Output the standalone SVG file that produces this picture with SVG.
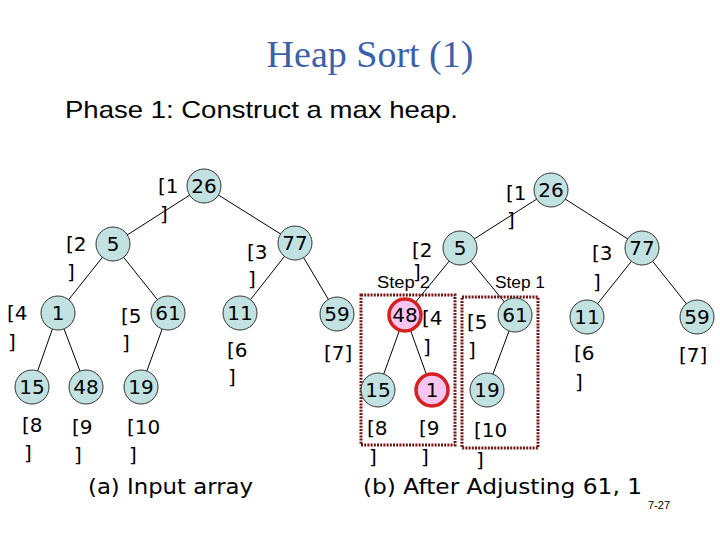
<svg xmlns="http://www.w3.org/2000/svg" width="720" height="540" viewBox="0 0 720 540">
<style>
.n circle{fill:#c2e2e2;stroke:#333;stroke-width:1}
.n.hl circle{fill:#f6c6f0;stroke:#d42020;stroke-width:3.5}
.n text{font-family:"DejaVu Sans",sans-serif;font-size:20px;text-anchor:middle;fill:#000}
.lb{font-family:"DejaVu Sans",sans-serif;font-size:20px;fill:#000}
.e line{stroke:#000;stroke-width:1}
.step{font-family:"Liberation Sans",Arial,sans-serif;font-size:16px;fill:#000}
.box{fill:none;stroke:#6e1414;stroke-width:3;stroke-dasharray:2 1.2}
</style>
<rect width="720" height="540" fill="#fff"/>
<text x="370" y="67" font-family="Liberation Serif,serif" font-size="38" fill="#3d5fa8" text-anchor="middle">Heap Sort (1)</text>
<text x="65" y="118" font-family="Liberation Sans,sans-serif" font-size="24" fill="#000" textLength="393" lengthAdjust="spacingAndGlyphs">Phase 1: Construct a max heap.</text>

<g id="connectors" class="e">
<line x1="204" y1="186" x2="113" y2="244"/>
<line x1="204" y1="186" x2="295" y2="243"/>
<line x1="113" y1="244" x2="58" y2="313"/>
<line x1="113" y1="244" x2="168" y2="313"/>
<line x1="295" y1="243" x2="240" y2="313"/>
<line x1="295" y1="243" x2="337" y2="314"/>
<line x1="58" y1="313" x2="32" y2="387"/>
<line x1="58" y1="313" x2="86" y2="387"/>
<line x1="168" y1="313" x2="141" y2="387"/>
<line x1="551" y1="190" x2="460" y2="248"/>
<line x1="551" y1="190" x2="642" y2="248"/>
<line x1="460" y1="248" x2="405" y2="315"/>
<line x1="460" y1="248" x2="515" y2="315"/>
<line x1="642" y1="248" x2="587" y2="317"/>
<line x1="642" y1="248" x2="697" y2="317"/>
<line x1="405" y1="315" x2="378" y2="390"/>
<line x1="405" y1="315" x2="432" y2="390"/>
<line x1="515" y1="315" x2="487" y2="390"/>
</g>

<rect class="box" x="361" y="295" width="94" height="150"/>
<rect class="box" x="462" y="297" width="76" height="151"/>

<g id="a26" class="n"><circle cx="204" cy="186" r="17"/><text x="204" y="193">26</text></g>
<g id="a5" class="n"><circle cx="113" cy="244" r="17"/><text x="113" y="251">5</text></g>
<g id="a77" class="n"><circle cx="295" cy="243" r="17"/><text x="295" y="250">77</text></g>
<g id="a1" class="n"><circle cx="58" cy="313" r="17"/><text x="58" y="320">1</text></g>
<g id="a61" class="n"><circle cx="168" cy="313" r="17"/><text x="168" y="320">61</text></g>
<g id="a11" class="n"><circle cx="240" cy="313" r="17"/><text x="240" y="320">11</text></g>
<g id="a59" class="n"><circle cx="337" cy="314" r="17"/><text x="337" y="321">59</text></g>
<g id="a15" class="n"><circle cx="32" cy="387" r="17"/><text x="32" y="394">15</text></g>
<g id="a48" class="n"><circle cx="86" cy="387" r="17"/><text x="86" y="394">48</text></g>
<g id="a19" class="n"><circle cx="141" cy="387" r="17"/><text x="141" y="394">19</text></g>

<g id="b26" class="n"><circle cx="551" cy="190" r="17"/><text x="551" y="197">26</text></g>
<g id="b5" class="n"><circle cx="460" cy="248" r="17"/><text x="460" y="255">5</text></g>
<g id="b77" class="n"><circle cx="642" cy="248" r="17"/><text x="642" y="255">77</text></g>
<g id="b48" class="n hl"><circle cx="405" cy="315" r="16"/><text x="405" y="322">48</text></g>
<g id="b61" class="n"><circle cx="515" cy="315" r="17"/><text x="515" y="322">61</text></g>
<g id="b11" class="n"><circle cx="587" cy="317" r="17"/><text x="587" y="324">11</text></g>
<g id="b59" class="n"><circle cx="697" cy="317" r="17"/><text x="697" y="324">59</text></g>
<g id="b15" class="n"><circle cx="378" cy="390" r="17"/><text x="378" y="397">15</text></g>
<g id="b1" class="n hl"><circle cx="432" cy="390" r="16"/><text x="432" y="397">1</text></g>
<g id="b19" class="n"><circle cx="487" cy="390" r="17"/><text x="487" y="397">19</text></g>

<g id="labels-a" class="lb">
<text x="158" y="193">[1</text><text x="160" y="221">]</text>
<text x="66" y="251">[2</text><text x="67" y="279">]</text>
<text x="247" y="259">[3</text><text x="248" y="286">]</text>
<text x="7" y="320">[4</text><text x="8" y="349">]</text>
<text x="121" y="323">[5</text><text x="122" y="350">]</text>
<text x="227" y="357">[6</text><text x="228" y="384">]</text>
<text x="324" y="360">[7]</text>
<text x="22" y="432">[8</text><text x="24" y="460">]</text>
<text x="72" y="434">[9</text><text x="74" y="462">]</text>
<text x="127" y="434">[10</text><text x="129" y="462">]</text>
<text x="88" y="494" font-size="22" textLength="165" lengthAdjust="spacingAndGlyphs">(a) Input array</text>
</g>

<g id="labels-b" class="lb">
<text x="506" y="200">[1</text><text x="507" y="227">]</text>
<text x="412" y="257">[2</text><text x="413" y="279">]</text>
<text x="592" y="260">[3</text><text x="593" y="289">]</text>
<text x="422" y="325">[4</text><text x="423" y="354">]</text>
<text x="467" y="329">[5</text><text x="468" y="357">]</text>
<text x="574" y="360">[6</text><text x="575" y="389">]</text>
<text x="679" y="362">[7]</text>
<text x="367" y="435">[8</text><text x="369" y="464">]</text>
<text x="419" y="435">[9</text><text x="421" y="464">]</text>
<text x="474" y="437">[10</text><text x="476" y="467">]</text>
<text x="363" y="494" font-size="22" textLength="279" lengthAdjust="spacingAndGlyphs">(b) After Adjusting 61, 1</text>
</g>

<text class="step" x="377" y="288" textLength="53" lengthAdjust="spacingAndGlyphs">Step 2</text>
<text class="step" x="495" y="288" textLength="50" lengthAdjust="spacingAndGlyphs">Step 1</text>
<text x="648" y="509" font-family="Liberation Sans,sans-serif" font-size="11" fill="#000">7-27</text>
</svg>
